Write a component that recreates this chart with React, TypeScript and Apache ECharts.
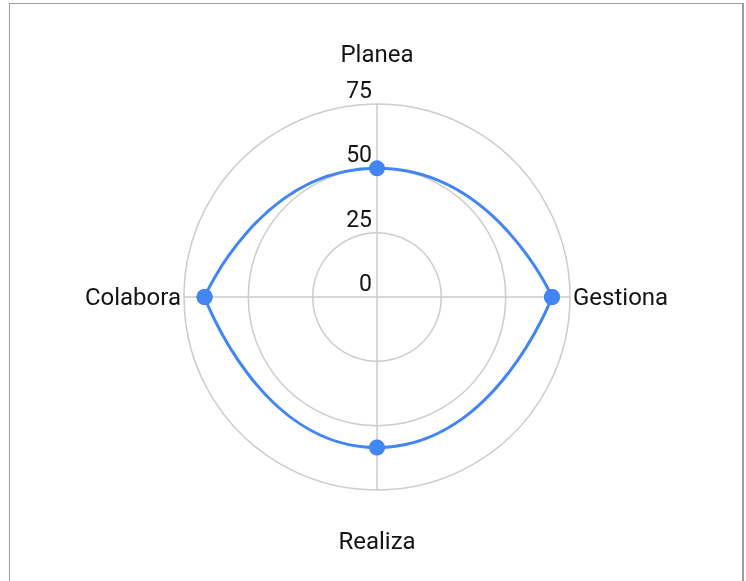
import React, { useEffect, useRef } from 'react';
import * as echarts from 'echarts';

const categories = ['Planea', 'Gestiona', 'Realiza', 'Colabora'];
const values = [50, 68, 58.5, 67];
const radiusMin = 0;
const radiusMax = 75;
const radiusStep = 25;
const upperPath = ['Colabora', 'Planea', 'Gestiona'];
const lowerPath = ['Colabora', 'Realiza', 'Gestiona'];

const BLUE = '#4285F4';
const GRID = '#cccccc';
const TEXT = '#141414';
const FONT = 'Roboto';

export default function App() {
  const ref = useRef<HTMLDivElement>(null);

  useEffect(() => {
    if (!ref.current) return;
    const chart = echarts.init(ref.current, null, { renderer: 'svg' });
    const step = 360 / categories.length;
    const valueOf = (name: string) => values[categories.indexOf(name)];
    const angleOf = (name: string) => categories.indexOf(name) * step;
    const lineSeries = (names: string[]) => ({
      type: 'line',
      coordinateSystem: 'polar',
      data: names.map((n) => [valueOf(n), angleOf(n)]),
      smooth: 0.68,
      clip: false,
      symbol: 'circle',
      symbolSize: 16,
      lineStyle: { color: BLUE, width: 3 },
      itemStyle: { color: BLUE },
      silent: true,
      z: 3,
    });
    chart.setOption({
      animation: false,
      polar: { center: [377, 297], radius: 193 },
      angleAxis: {
        type: 'value',
        min: 0,
        max: 360,
        interval: step,
        startAngle: 90,
        clockwise: true,
        axisLine: { show: false },
        axisTick: { show: false },
        splitLine: { show: true, lineStyle: { color: GRID, width: 1.5 } },
        axisLabel: {
          show: true,
          margin: 3,
          fontSize: 24,
          fontFamily: FONT,
          color: TEXT,
          formatter: (v: number) => {
            const i = Math.round(v / step);
            const name = categories[i % categories.length];
            if (name === 'Planea') return '{top|' + name + '}';
            if (name === 'Realiza') return '{bottom|' + name + '}';
            return name;
          },
          rich: {
            top: { fontSize: 24, fontFamily: FONT, color: TEXT, padding: [0, 0, 35, 0] },
            bottom: { fontSize: 24, fontFamily: FONT, color: TEXT, padding: [36, 0, 0, 0] },
          },
        },
      },
      radiusAxis: {
        type: 'value',
        min: radiusMin,
        max: radiusMax,
        interval: radiusStep,
        axisLine: { show: false },
        axisTick: { show: false },
        splitLine: { show: true, lineStyle: { color: GRID, width: 1.5 } },
        axisLabel: {
          show: true,
          margin: 5,
          fontSize: 23,
          fontFamily: FONT,
          color: TEXT,
          verticalAlign: 'bottom',
          padding: [0, 0, 2, 0],
        },
      },
      series: [lineSeries(upperPath), lineSeries(lowerPath)],
    });
    return () => chart.dispose();
  }, []);

  return (
    <>
      <div
        style={{
          position: 'fixed',
          left: 9,
          top: 3,
          bottom: 0,
          width: 735,
          boxSizing: 'border-box',
          borderLeft: '1px solid #9e9e9e',
          borderTop: '1px solid #9e9e9e',
          borderRight: '2px solid #9e9e9e',
          pointerEvents: 'none',
        }}
      />
      <div
        ref={ref}
        style={{ position: 'fixed', left: 0, top: 0, width: 746, height: 581 }}
      />
    </>
  );
}
